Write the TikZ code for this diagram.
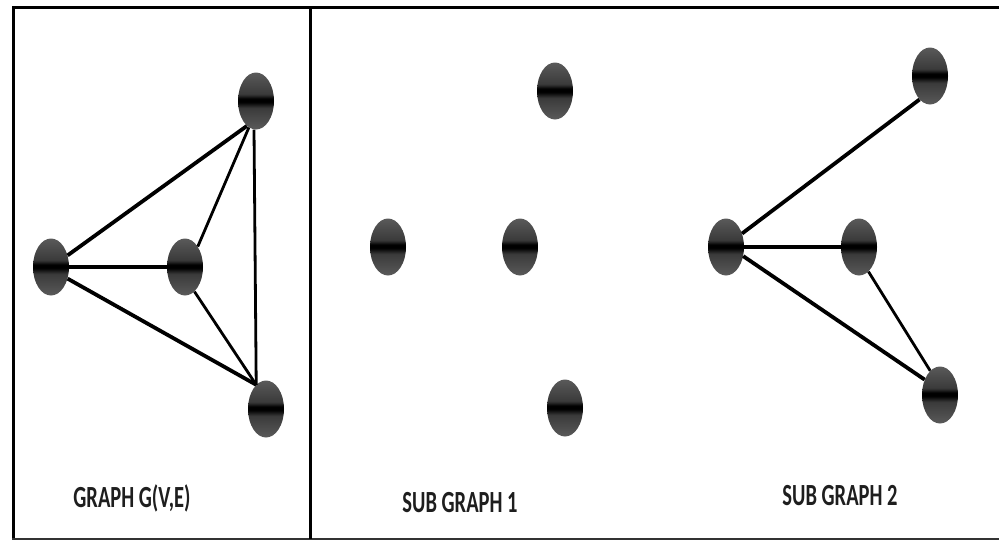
\documentclass[tikz,border=0pt]{standalone}
\usepackage{fontspec}
\setmainfont{Carlito}
\usetikzlibrary{shapes.geometric}
\definecolor{nodetop}{HTML}{5A5A5A}
\definecolor{nodemid}{HTML}{3A3A3A}
\definecolor{textc}{HTML}{1E1E1E}
\pgfdeclareverticalshading{vshade}{100bp}{color(0bp)=(nodetop); color(25bp)=(nodetop); color(44bp)=(nodemid); color(49bp)=(black); color(52bp)=(black); color(56bp)=(nodemid); color(75bp)=(nodetop); color(100bp)=(nodetop)}
\tikzset{
  vtx/.style={ellipse, minimum width=36pt, minimum height=57pt, inner sep=0pt, shading=vshade, draw=none},
  edge/.style={line width=3.8pt, black},
  thin edge/.style={line width=2.8pt, black},
  frame/.style={line width=3.2pt, black},
  lbl/.style={font=\bfseries\fontsize{20.5}{20.5}\selectfont, text=textc, yscale=1.5, inner sep=0pt}
}
\begin{document}
\begin{tikzpicture}[x=1pt,y=-1pt]
\useasboundingbox (0,0) rectangle (999,541);
\fill[white] (0,0) rectangle (999,541);
% frame
\draw[frame] (999,7.5) -- (13.5,7.5) -- (13.5,539);
\draw[line width=2.4pt, black!80] (12,539) -- (999,539);
\draw[line width=3.8pt] (310.5,7.5) -- (310.5,539);
% Graph G
\node[vtx] (gl) at (51,267) {};
\node[vtx] (gm) at (185,267) {};
\node[vtx] (gt) at (256,101) {};
\node[vtx] (gb) at (266,409) {};
\draw[edge] (gl.35) -- (gt.250);
\draw[edge] (gl.east) -- (gm.west);
\draw[edge] (gl.-35) -- (gb.112);
\draw[thin edge] (gm.58) -- (gt.255);
\draw[thin edge] (gm.-69) -- (gb.112);
\draw[thin edge] (gt.266) -- (gb.112);
\node[lbl] (lg) at (132,498) {GRAPH G(V,E)};
% Sub graph 1
\node[vtx] (at) at (555,91) {};
\node[vtx] (al) at (388,247) {};
\node[vtx] (am) at (520,247) {};
\node[vtx] (ab) at (565,408) {};
\node[lbl] (l1) at (460,503) {SUB GRAPH 1};
% Sub graph 2
\node[vtx] (bl) at (726,247) {};
\node[vtx] (bm) at (859,247) {};
\node[vtx] (bt) at (930,76) {};
\node[vtx] (bb) at (940,395) {};
\draw[edge] (bl.40) -- (bt.246);
\draw[edge] (bl.east) -- (bm.west);
\draw[edge] (bl.-28) -- (bb.135);
\draw[thin edge] (bm.-69) -- (bb.112);
\node[lbl] (l2) at (840,496) {SUB GRAPH 2};
\end{tikzpicture}
\end{document}
